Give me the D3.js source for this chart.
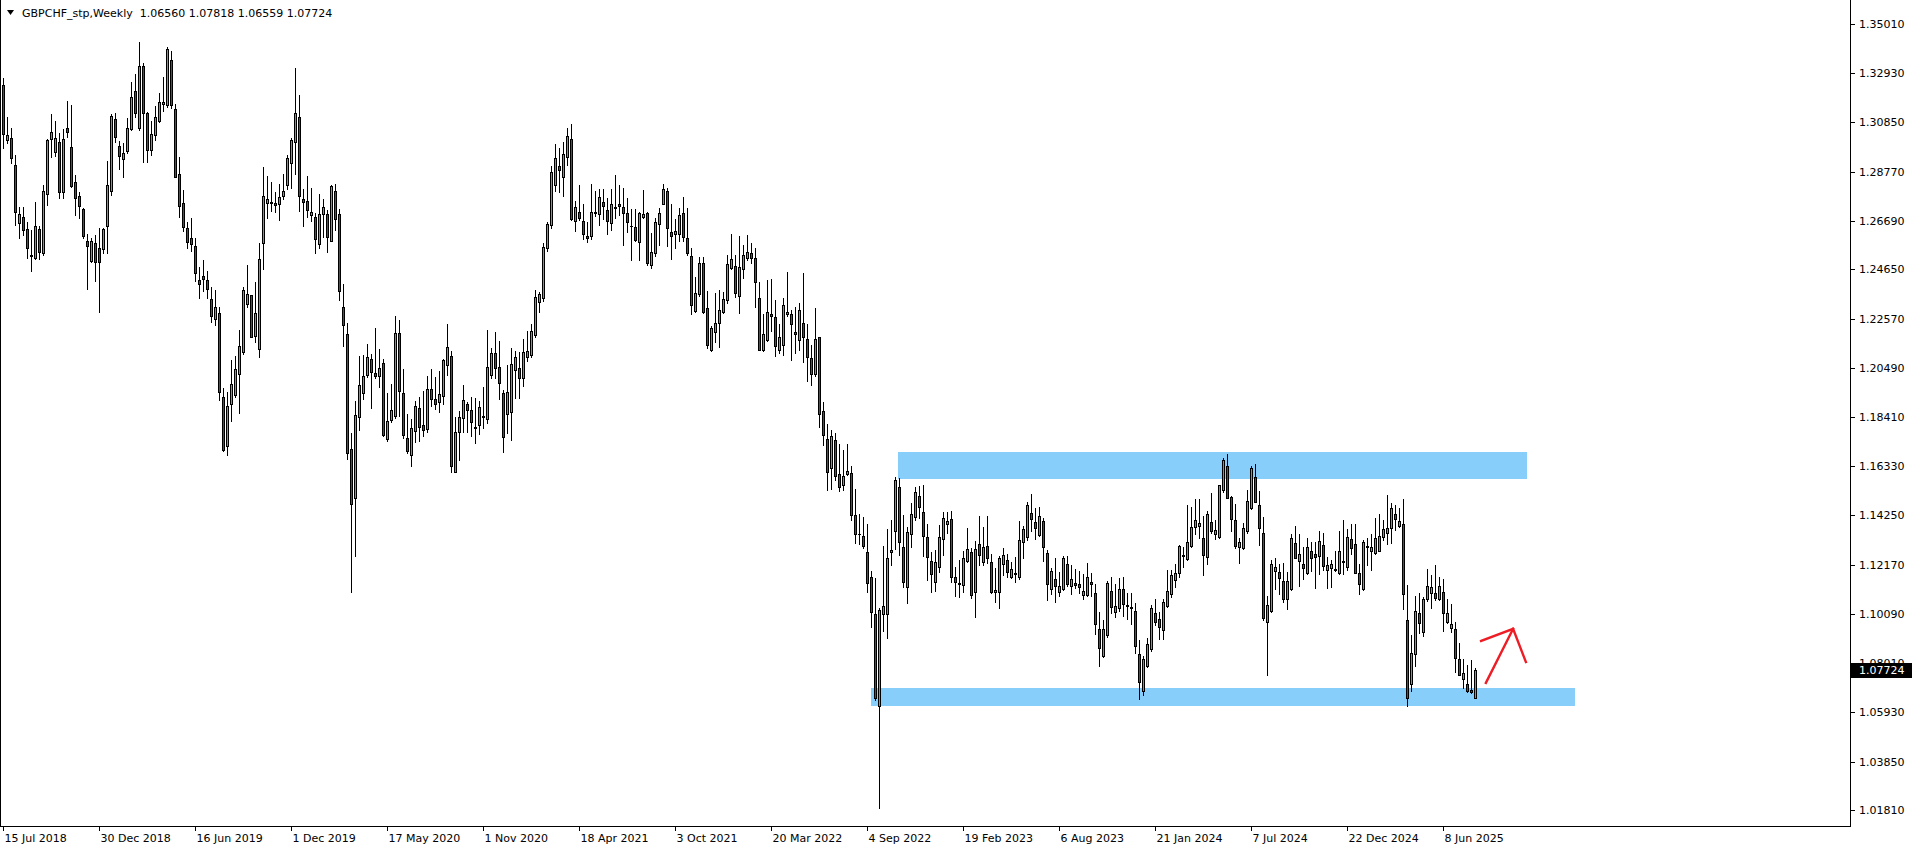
<!DOCTYPE html>
<html><head><meta charset="utf-8">
<script src="https://cdn.jsdelivr.net/npm/d3@7"></script>
<style>
html,body{margin:0;padding:0;background:#fff;overflow:hidden}
svg{display:block}
text{font-family:Tahoma,"DejaVu Sans",sans-serif;font-size:11px;fill:#000}
</style></head>
<body>
<svg id="chart" width="1916" height="850"></svg>
<script>
// ---------------- DATA ----------------
const symbol = "GBPCHF_stp,Weekly";
const firstWeek = "2018-07-15";
const open = [1.3243,1.3010,1.3018,1.2906,1.2659,1.2684,1.2635,1.2520,1.2514,1.2635,1.2535,1.2785,1.3014,1.2959,1.3004,1.2790,1.3060,1.2980,1.2834,1.2774,1.2720,1.2584,1.2501,1.2575,1.2554,1.2551,1.2648,1.2795,1.3098,1.2986,1.2929,1.2966,1.3056,1.3218,1.3060,1.3324,1.3124,1.2969,1.3032,1.3093,1.3162,1.3157,1.3349,1.3141,1.2866,1.2743,1.2638,1.2596,1.2563,1.2420,1.2437,1.2420,1.2339,1.2254,1.2279,1.1924,1.1720,1.1895,1.1932,1.2021,1.2117,1.2317,1.2356,1.2184,1.2130,1.2575,1.2746,1.2743,1.2743,1.2739,1.2774,1.2820,1.2912,1.3004,1.3110,1.2760,1.2753,1.2693,1.2684,1.2571,1.2698,1.2698,1.2584,1.2795,1.2698,1.2305,1.2190,1.1706,1.1498,1.1840,1.1941,1.2017,1.2087,1.2026,1.2014,1.2069,1.1749,1.1829,1.1844,1.2196,1.1943,1.1753,1.1680,1.1781,1.1880,1.1808,1.1790,1.1960,1.1917,1.1905,1.1928,1.2062,1.2100,1.1610,1.1779,1.1836,1.1894,1.1869,1.1800,1.1806,1.1842,1.1831,1.2018,1.2110,1.2054,1.1941,1.1854,1.1861,1.2040,1.2047,1.2007,1.2093,1.2103,1.2187,1.2325,1.2342,1.2554,1.2652,1.2821,1.2901,1.2856,1.2941,1.3015,1.2669,1.2708,1.2669,1.2606,1.2607,1.2701,1.2698,1.2748,1.2715,1.2659,1.2730,1.2739,1.2730,1.2701,1.2649,1.2644,1.2579,1.2684,1.2701,1.2483,1.2532,1.2655,1.2742,1.2796,1.2621,1.2613,1.2614,1.2701,1.2596,1.2521,1.2290,1.2359,1.2490,1.2300,1.2124,1.2198,1.2237,1.2286,1.2335,1.2469,1.2479,1.2352,1.2466,1.2514,1.2532,1.2512,1.2342,1.2123,1.2167,1.2278,1.2262,1.2123,1.2146,1.2275,1.2278,1.2199,1.2165,1.2239,1.2170,1.2092,1.2021,1.2178,1.1865,1.1746,1.1627,1.1743,1.1600,1.1555,1.1600,1.1603,1.1425,1.1348,1.1340,1.1269,1.1166,1.1011,1.0620,1.1010,1.1011,1.1269,1.1361,1.1544,1.1290,1.1124,1.1346,1.1417,1.1509,1.1438,1.1333,1.1234,1.1146,1.1206,1.1324,1.1389,1.1409,1.1164,1.1141,1.1131,1.1234,1.1270,1.1101,1.1303,1.1230,1.1296,1.1227,1.1100,1.1103,1.1219,1.1237,1.1167,1.1177,1.1167,1.1315,1.1333,1.1434,1.1396,1.1343,1.1402,1.1265,1.1113,1.1155,1.1103,1.1115,1.1219,1.1129,1.1138,1.1134,1.1089,1.1089,1.1143,1.1096,1.0944,1.0832,1.0919,1.1107,1.1016,1.1033,1.1113,1.1047,1.1037,1.1022,1.0839,1.0685,1.0791,1.0860,1.1012,1.0986,1.0941,1.1043,1.1092,1.1153,1.1184,1.1258,1.1240,1.1298,1.1375,1.1382,1.1329,1.1248,1.1399,1.1346,1.1333,1.1533,1.1634,1.1502,1.1406,1.1293,1.1286,1.1361,1.1458,1.1586,1.1469,1.1350,1.0976,1.1023,1.1192,1.1185,1.1148,1.1072,1.1113,1.1307,1.1234,1.1219,1.1181,1.1275,1.1261,1.1254,1.1300,1.1195,1.1205,1.1198,1.1181,1.1233,1.1209,1.1326,1.1303,1.1181,1.1113,1.1298,1.1276,1.1265,1.1276,1.1336,1.1353,1.1371,1.1431,1.1382,1.1389,1.0984,1.0712,1.0840,1.1012,1.0934,1.1071,1.1096,1.1096,1.1071,1.1100,1.0977,1.0948,1.0944,1.0817,1.0733,1.0712,1.0688,1.06560];
const high = [1.3271,1.3110,1.3060,1.2948,1.2729,1.2729,1.2666,1.2631,1.2751,1.2649,1.2821,1.3015,1.3121,1.3091,1.3039,1.3056,1.3176,1.3159,1.2863,1.2790,1.2722,1.2612,1.2596,1.2610,1.2641,1.2641,1.2922,1.3119,1.3124,1.3007,1.2997,1.3103,1.3257,1.3290,1.3426,1.3335,1.3130,1.3090,1.3155,1.3208,1.3279,1.3405,1.3387,1.3162,1.2941,1.2800,1.2666,1.2683,1.2596,1.2476,1.2504,1.2458,1.2391,1.2377,1.2307,1.1962,1.1948,1.2082,1.2099,1.2208,1.2389,1.2482,1.2356,1.2413,1.2577,1.2898,1.2859,1.2833,1.2793,1.2825,1.2866,1.2948,1.3018,1.3314,1.3201,1.2802,1.2857,1.2807,1.2702,1.2782,1.2760,1.2716,1.2821,1.2826,1.2719,1.2404,1.2237,1.1774,1.1909,1.2098,1.2101,1.2149,1.2106,1.2215,1.2130,1.2084,1.1941,1.1982,1.2269,1.2251,1.2045,1.1854,1.1834,1.1910,1.1927,1.1950,1.2014,1.2045,1.2008,1.2036,1.2087,1.2232,1.2120,1.1843,1.1867,1.1976,1.1906,1.1927,1.1920,1.1909,1.1969,1.2209,1.2134,1.2199,1.2162,1.1955,1.2061,1.2134,1.2120,1.2114,1.2170,1.2204,1.2232,1.2377,1.2370,1.2578,1.2666,1.2903,1.2993,1.2979,1.3001,1.3063,1.3077,1.2753,1.2821,1.2739,1.2666,1.2824,1.2796,1.2804,1.2804,1.2765,1.2804,1.2863,1.2821,1.2810,1.2767,1.2719,1.2719,1.2708,1.2800,1.2708,1.2617,1.2680,1.2725,1.2825,1.2810,1.2739,1.2677,1.2725,1.2769,1.2725,1.2556,1.2431,1.2518,1.2518,1.2375,1.2225,1.2363,1.2376,1.2370,1.2525,1.2613,1.2525,1.2607,1.2567,1.2610,1.2575,1.2553,1.2410,1.2274,1.2421,1.2426,1.2337,1.2234,1.2342,1.2453,1.2294,1.2305,1.2323,1.2449,1.2234,1.2146,1.2301,1.2178,1.1905,1.1813,1.1786,1.1773,1.1727,1.1701,1.1727,1.1635,1.1536,1.1431,1.1417,1.1388,1.1190,1.1161,1.1033,1.1297,1.1368,1.1404,1.1587,1.1584,1.1425,1.1378,1.1479,1.1544,1.1551,1.1554,1.1388,1.1272,1.1279,1.1385,1.1438,1.1438,1.1444,1.1206,1.1237,1.1275,1.1371,1.1289,1.1317,1.1423,1.1378,1.1423,1.1261,1.1202,1.1255,1.1286,1.1261,1.1227,1.1251,1.1402,1.1381,1.1483,1.1514,1.1455,1.1459,1.1413,1.1279,1.1205,1.1247,1.1188,1.1254,1.1255,1.1216,1.1198,1.1191,1.1176,1.1226,1.1184,1.1136,1.1019,1.0984,1.1148,1.1164,1.1134,1.1162,1.1164,1.1099,1.1099,1.1054,1.0899,1.0832,1.0906,1.1047,1.1072,1.1019,1.1072,1.1195,1.1195,1.1219,1.1300,1.1293,1.1469,1.1462,1.1495,1.1495,1.1423,1.1445,1.1521,1.1406,1.1554,1.1666,1.1685,1.1509,1.1472,1.1329,1.1392,1.1533,1.1634,1.1643,1.1528,1.1417,1.1086,1.1237,1.1247,1.1219,1.1226,1.1185,1.1345,1.1381,1.1347,1.1291,1.1331,1.1315,1.1312,1.1359,1.1350,1.1248,1.1237,1.1275,1.1359,1.1406,1.1367,1.1388,1.1389,1.1220,1.1321,1.1329,1.1347,1.1413,1.1431,1.1406,1.1512,1.1479,1.1469,1.1455,1.1495,1.1131,1.0920,1.1086,1.1096,1.1082,1.1199,1.1174,1.1216,1.1167,1.1157,1.1072,1.1051,1.0977,1.0888,1.0819,1.0794,1.0815,1.07818];
const low = [1.2978,1.2997,1.2913,1.2652,1.2596,1.2610,1.2514,1.2458,1.2510,1.2508,1.2525,1.2736,1.2941,1.2945,1.2765,1.2765,1.3025,1.2811,1.2694,1.2680,1.2598,1.2382,1.2497,1.2415,1.2285,1.2532,1.2532,1.2779,1.3004,1.2889,1.2856,1.2955,1.3053,1.3110,1.3053,1.2917,1.2919,1.2948,1.3011,1.3089,1.3135,1.3152,1.3145,1.2856,1.2684,1.2628,1.2556,1.2544,1.2417,1.2345,1.2375,1.2345,1.2244,1.2230,1.1913,1.1699,1.1681,1.1825,1.1924,1.1856,1.2107,1.2307,1.2177,1.2159,1.2096,1.2467,1.2683,1.2712,1.2708,1.2673,1.2760,1.2805,1.2807,1.2867,1.2712,1.2649,1.2687,1.2671,1.2532,1.2556,1.2600,1.2538,1.2584,1.2629,1.2334,1.2139,1.1665,1.1102,1.1252,1.1786,1.1917,1.2008,1.1877,1.2004,1.1968,1.1760,1.1738,1.1819,1.1837,1.1844,1.1753,1.1687,1.1636,1.1735,1.1738,1.1760,1.1779,1.1888,1.1873,1.1861,1.1898,1.2018,1.1607,1.1607,1.1659,1.1779,1.1779,1.1762,1.1730,1.1768,1.1796,1.1814,1.2004,1.2007,1.1917,1.1692,1.1772,1.1744,1.1923,1.1923,1.1973,1.2078,1.2096,1.2180,1.2283,1.2331,1.2542,1.2638,1.2796,1.2793,1.2776,1.2905,1.2673,1.2627,1.2673,1.2593,1.2582,1.2593,1.2691,1.2652,1.2677,1.2614,1.2631,1.2680,1.2694,1.2567,1.2624,1.2504,1.2584,1.2504,1.2680,1.2483,1.2472,1.2522,1.2567,1.2739,1.2565,1.2507,1.2556,1.2584,1.2586,1.2525,1.2276,1.2286,1.2353,1.2279,1.2134,1.2120,1.2159,1.2138,1.2279,1.2321,1.2466,1.2349,1.2282,1.2427,1.2504,1.2490,1.2307,1.2123,1.2119,1.2162,1.2204,1.2100,1.2111,1.2103,1.2267,1.2083,1.2111,1.2124,1.2075,1.1992,1.1976,1.2016,1.1798,1.1722,1.1534,1.1536,1.1576,1.1528,1.1531,1.1595,1.1407,1.1309,1.1304,1.1288,1.1102,1.0956,1.0646,1.0190,1.0938,1.0906,1.1216,1.1282,1.1256,1.1121,1.1057,1.1293,1.1406,1.1413,1.1254,1.1153,1.1103,1.1106,1.1188,1.1258,1.1350,1.1146,1.1086,1.1082,1.1100,1.1227,1.1078,1.0998,1.1216,1.1216,1.1223,1.1099,1.1061,1.1036,1.1174,1.1164,1.1160,1.1143,1.1157,1.1244,1.1321,1.1361,1.1324,1.1338,1.1234,1.1068,1.1093,1.1061,1.1085,1.1110,1.1127,1.1093,1.1117,1.1099,1.1072,1.1086,1.1086,1.0923,1.0791,1.0829,1.0910,1.1012,1.0998,1.1023,1.1002,1.0988,1.0965,1.0846,1.0649,1.0667,1.0786,1.0854,1.0963,1.0902,1.0902,1.1037,1.1082,1.1122,1.1167,1.1206,1.1237,1.1291,1.1347,1.1328,1.1174,1.1220,1.1350,1.1326,1.1329,1.1523,1.1497,1.1361,1.1286,1.1226,1.1283,1.1350,1.1452,1.1481,1.1300,1.0983,1.0751,1.1019,1.1113,1.1093,1.1061,1.1030,1.1110,1.1244,1.1127,1.1155,1.1178,1.1192,1.1117,1.1177,1.1195,1.1117,1.1124,1.1191,1.1178,1.1178,1.1195,1.1262,1.1183,1.1093,1.1110,1.1216,1.1195,1.1262,1.1276,1.1322,1.1305,1.1308,1.1364,1.1378,1.1030,1.0622,1.0685,1.0791,1.0930,1.0917,1.1065,1.1033,1.1068,1.1068,1.0937,1.0972,1.0932,1.0763,1.0751,1.0698,1.0681,1.0674,1.06559];
const close = [1.3035,1.3032,1.2934,1.2708,1.2697,1.2631,1.2556,1.2525,1.2648,1.2537,1.2796,1.3013,1.3043,1.3018,1.2790,1.3015,1.3046,1.2818,1.2765,1.2734,1.2607,1.2565,1.2584,1.2497,1.2494,1.2634,1.2821,1.3112,1.3025,1.2945,1.2955,1.3063,1.3193,1.3124,1.3324,1.3124,1.2969,1.3036,1.3107,1.3170,1.3172,1.3394,1.3157,1.2856,1.2734,1.2645,1.2582,1.2572,1.2448,1.2401,1.2422,1.2380,1.2269,1.2304,1.1948,1.1702,1.1888,1.1980,1.2042,1.2141,1.2377,1.2359,1.2180,1.2279,1.2510,1.2774,1.2760,1.2750,1.2738,1.2769,1.2796,1.2934,1.3011,1.3124,1.2774,1.2750,1.2716,1.2706,1.2591,1.2698,1.2727,1.2600,1.2815,1.2676,1.2372,1.2229,1.1688,1.1473,1.1848,1.1976,1.2014,1.2095,1.2033,1.2014,1.2048,1.1767,1.1825,1.1870,1.2196,1.1949,1.1767,1.1699,1.1793,1.1888,1.1800,1.1786,1.1960,1.1917,1.1898,1.1939,1.2080,1.2138,1.1636,1.1776,1.1840,1.1911,1.1872,1.1819,1.1793,1.1882,1.1846,1.2051,1.2110,1.2047,1.1983,1.1755,1.1948,1.2063,1.2093,1.2004,1.2114,1.2120,1.2206,1.2349,1.2359,1.2558,1.2655,1.2877,1.2934,1.2884,1.2950,1.3029,1.2676,1.2727,1.2683,1.2614,1.2599,1.2708,1.2708,1.2769,1.2734,1.2670,1.2739,1.2725,1.2734,1.2704,1.2663,1.2646,1.2590,1.2701,1.2697,1.2493,1.2537,1.2666,1.2701,1.2803,1.2638,1.2607,1.2627,1.2694,1.2603,1.2535,1.2314,1.2363,1.2490,1.2286,1.2145,1.2215,1.2237,1.2293,1.2338,1.2487,1.2507,1.2363,1.2474,1.2525,1.2537,1.2514,1.2413,1.2123,1.2191,1.2283,1.2266,1.2143,1.2181,1.2313,1.2286,1.2235,1.2191,1.2291,1.2178,1.2096,1.2024,1.2170,1.1852,1.1766,1.1608,1.1759,1.1590,1.1547,1.1590,1.1615,1.1428,1.1348,1.1345,1.1298,1.1139,1.1019,1.0652,1.1027,1.1041,1.1245,1.1280,1.1574,1.1312,1.1146,1.1354,1.1430,1.1523,1.1460,1.1340,1.1251,1.1177,1.1227,1.1333,1.1413,1.1402,1.1167,1.1143,1.1134,1.1244,1.1282,1.1089,1.1282,1.1258,1.1291,1.1244,1.1103,1.1110,1.1244,1.1258,1.1188,1.1198,1.1184,1.1321,1.1366,1.1469,1.1409,1.1371,1.1423,1.1291,1.1134,1.1191,1.1129,1.1129,1.1244,1.1134,1.1155,1.1133,1.1122,1.1106,1.1164,1.1134,1.0965,1.0864,1.0944,1.1138,1.1040,1.1043,1.1113,1.1050,1.1043,1.1033,1.0875,1.0720,1.0819,1.0881,1.1033,1.0977,1.0953,1.1058,1.1107,1.1174,1.1184,1.1296,1.1255,1.1312,1.1375,1.1406,1.1392,1.1259,1.1431,1.1361,1.1364,1.1554,1.1659,1.1500,1.1412,1.1296,1.1313,1.1371,1.1486,1.1624,1.1483,1.1374,1.0993,1.1047,1.1219,1.1209,1.1162,1.1072,1.1148,1.1331,1.1244,1.1262,1.1205,1.1291,1.1244,1.1248,1.1317,1.1213,1.1216,1.1219,1.1195,1.1275,1.1230,1.1336,1.1286,1.1183,1.1134,1.1312,1.1293,1.1291,1.1329,1.1340,1.1367,1.1371,1.1455,1.1410,1.1402,1.1092,1.0656,1.0843,1.1022,1.0972,1.1072,1.1127,1.1124,1.1078,1.1127,1.1015,1.1012,1.0967,1.0822,1.0751,1.0758,1.0685,1.0681,1.07724];
const priceTickLabels = ["1.35010","1.32930","1.30850","1.28770","1.26690","1.24650","1.22570","1.20490","1.18410","1.16330","1.14250","1.12170","1.10090","1.08010","1.05930","1.03850","1.01810"];
const dateTickLabels = ["15 Jul 2018","30 Dec 2018","16 Jun 2019","1 Dec 2019","17 May 2020","1 Nov 2020","18 Apr 2021","3 Oct 2021","20 Mar 2022","4 Sep 2022","19 Feb 2023","6 Aug 2023","21 Jan 2024","7 Jul 2024","22 Dec 2024","8 Jun 2025"];
// zones: start week index, end week index (may extend past last bar), top price, bottom price
const zoneStart = [223.7, 217];
const zoneEnd = [381, 393];
const zoneTop = [1.1693, 1.0696];
const zoneBottom = [1.1579, 1.0620];
// hand-drawn arrow (week index / price)
const arrowShaft = [[370.6,1.0718],[377.4,1.0946]];
const arrowHead = [[369.4,1.0895],[377.4,1.0946],[380.6,1.0806]];

// ---------------- CHART ----------------
const svg = d3.select("#chart");
const frameRight = 1850, frameBottom = 826;
const n = open.length;
const x = d3.scaleLinear().domain([0, n - 1]).range([3, 3 + 4 * (n - 1)]);
const y = d3.scaleLinear().domain([1.0181, 1.3501]).range([810, 24]);
const upCol = "#32cd32", dnCol = "#dd1515";

const plot = svg.append("g");
plot.append("defs").append("clipPath").attr("id","clip")
  .append("rect").attr("x",1).attr("y",0).attr("width",frameRight-1).attr("height",frameBottom);
const g = plot.append("g").attr("clip-path","url(#clip)").attr("shape-rendering","crispEdges");

// zones
g.selectAll("rect.zone").data(zoneStart.map((s,i)=>i)).join("rect")
  .attr("class","zone")
  .attr("x", i => Math.round(x(zoneStart[i])))
  .attr("width", i => Math.round(x(zoneEnd[i])) - Math.round(x(zoneStart[i])))
  .attr("y", i => Math.round(y(zoneTop[i])))
  .attr("height", i => Math.round(y(zoneBottom[i])) - Math.round(y(zoneTop[i])))
  .attr("fill", "#87cefa");

const idx = d3.range(n);
// wicks
g.selectAll("rect.wick").data(idx).join("rect")
  .attr("x", i => Math.round(x(i)))
  .attr("width", 1)
  .attr("y", i => Math.round(y(high[i])))
  .attr("height", i => Math.round(y(low[i])) - Math.round(y(high[i])) + 1)
  .attr("fill", "#000");
// body outline
g.selectAll("rect.bodyo").data(idx).join("rect")
  .attr("x", i => Math.round(x(i)) - 1)
  .attr("width", 3)
  .attr("y", i => Math.round(y(Math.max(open[i], close[i]))))
  .attr("height", i => Math.round(y(Math.min(open[i], close[i]))) - Math.round(y(Math.max(open[i], close[i]))) + 1)
  .attr("fill", "#000");
// body fill
g.selectAll("rect.bodyf").data(idx.filter(i => Math.round(y(Math.min(open[i], close[i]))) - Math.round(y(Math.max(open[i], close[i]))) >= 2)).join("rect")
  .attr("x", i => Math.round(x(i)))
  .attr("width", 1)
  .attr("y", i => Math.round(y(Math.max(open[i], close[i]))) + 1)
  .attr("height", i => Math.round(y(Math.min(open[i], close[i]))) - Math.round(y(Math.max(open[i], close[i]))) - 1)
  .attr("fill", i => close[i] >= open[i] ? upCol : dnCol);

// arrow
const line = d3.line().x(d => x(d[0]) + 0.5).y(d => y(d[1]));
plot.append("path").attr("d", line(arrowShaft)).attr("fill","none").attr("stroke","#ee1c24").attr("stroke-width",2.4).attr("stroke-linecap","square");
plot.append("path").attr("d", line(arrowHead)).attr("fill","none").attr("stroke","#ee1c24").attr("stroke-width",2.4).attr("stroke-linejoin","miter").attr("stroke-linecap","square");

// frame
const frame = svg.append("g").attr("shape-rendering","crispEdges");
frame.append("path").attr("d", `M0.5,0 V${frameBottom+0.5} H${frameRight+0.5} V0`).attr("fill","none").attr("stroke","#000");

// right axis
priceTickLabels.forEach(lbl => {
  const yy = Math.round(y(+lbl)) + 0.5;
  frame.append("line").attr("x1", frameRight+1).attr("x2", frameRight+5).attr("y1", yy).attr("y2", yy).attr("stroke","#000");
  svg.append("text").attr("x", frameRight + 9).attr("y", yy).attr("dy","0.36em").text(lbl);
});
// current price label
const last = close[n-1];
const ly = Math.round(y(last));
svg.append("rect").attr("x", frameRight+1).attr("y", ly-7).attr("width", 61).attr("height", 15).attr("fill","#000");
svg.append("text").attr("x", frameRight + 9).attr("y", ly+0.5).attr("dy","0.36em").style("fill","#fff").text(last.toFixed(5));

// bottom axis
const t0 = d3.timeParse("%Y-%m-%d")(firstWeek);
const parseLbl = d3.timeParse("%e %b %Y");
dateTickLabels.forEach(lbl => {
  const d = parseLbl(lbl);
  const wi = Math.round((d - t0) / (7 * 864e5));
  const xx = Math.round(x(wi)) + 0.5;
  frame.append("line").attr("x1", xx).attr("x2", xx).attr("y1", frameBottom+1).attr("y2", frameBottom+5).attr("stroke","#000");
  svg.append("text").attr("x", xx + 1).attr("y", frameBottom + 12).attr("dy","0.36em").text(lbl);
});

// header
svg.append("path").attr("d","M7,10 L14,10 L10.5,15 Z").attr("fill","#000");
svg.append("text").attr("x", 22).attr("y", 13).attr("dy","0.36em").attr("xml:space","preserve").style("white-space","pre")
  .text(`${symbol}  ${open[n-1].toFixed(5)} ${high[n-1].toFixed(5)} ${low[n-1].toFixed(5)} ${close[n-1].toFixed(5)}`);
</script>
</body></html>
